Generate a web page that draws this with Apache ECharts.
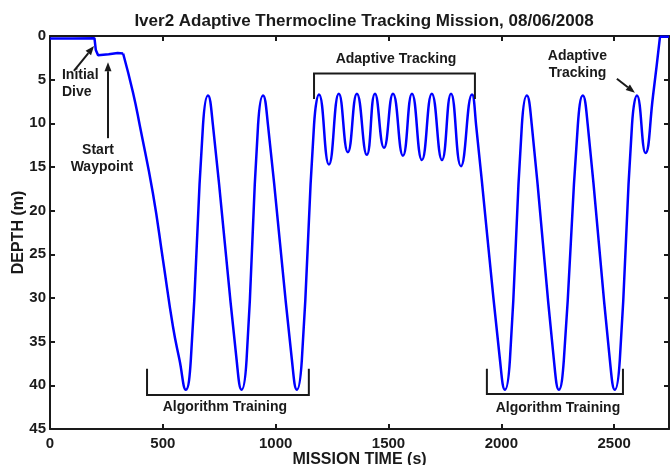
<!DOCTYPE html>
<html>
<head>
<meta charset="utf-8">
<script src="https://cdn.jsdelivr.net/npm/echarts@6/dist/echarts.min.js"></script>
<style>
  html, body { margin: 0; padding: 0; background: #fff; }
  #chart { width: 671px; height: 465px; }
</style>
</head>
<body>
<div id="chart"></div>
<script>
// surface run, initial dive and start waypoint (straight segments)
const surfaceTime  = [0, 100, 197, 203, 213, 260, 300, 324];
const surfaceDepth = [0.3, 0.3, 0.25, 1.6, 2.2, 2.1, 1.95, 2.0];

// main mission profile: training dives, adaptive tracking, training dives
const missionTime = [324, 368, 399, 456, 501, 545, 574, 602, 624, 678, 700, 722, 827, 849, 871, 922, 944, 966,
  1072, 1094, 1116, 1170, 1192,
  1236, 1280, 1320, 1360, 1404, 1440, 1480, 1520, 1564, 1604, 1648, 1692, 1737, 1777, 1821, 1870,
  1889, 1994, 2016, 2038, 2091, 2113, 2135, 2233, 2255, 2277, 2339, 2361, 2383, 2481, 2503, 2525, 2579,
  2601, 2639, 2672, 2703];
const missionDepth = [2.0, 6.5, 10.4, 18.0, 25.7, 33.3, 37.1, 40.5, 37.1, 10.2, 6.8, 10.2, 37.1, 40.5, 37.1, 10.2, 6.8, 10.2,
  37.1, 40.5, 37.1, 10.2, 6.7,
  14.7, 6.6, 13.3, 6.6, 13.6, 6.6, 12.8, 6.6, 13.7, 6.6, 14.2, 6.6, 14.2, 6.6, 14.9, 6.7,
  10.4, 37.1, 40.5, 37.1, 10.2, 6.8, 10.2, 37.1, 40.5, 37.1, 10.2, 6.8, 10.2, 37.1, 40.5, 37.1, 10.2,
  6.8, 13.4, 6.9, 0.1];

// back at the surface
const endTime  = [2703, 2743];
const endDepth = [0.1, 0.1];

const xTicks = [0, 500, 1000, 1500, 2000, 2500];
const yTicks = [0, 5, 10, 15, 20, 25, 30, 35, 40, 45];
const xMax = 2743;

const FONT = 'Liberation Sans';
const INK = '#1a1a1a';
const BLUE = '#0000ff';

function pairs(xs, ys) {
  return xs.map((x, i) => [x, ys[i]]);
}

const chart = echarts.init(document.getElementById('chart'));

const xBase = {
  type: 'value',
  min: xTicks[0],
  max: xMax,
  interval: xTicks[1] - xTicks[0],
  splitLine: { show: false },
  axisLine: { show: true, onZero: false, lineStyle: { color: INK, width: 2 } },
  axisTick: { show: true, inside: true, length: 5, lineStyle: { color: INK, width: 2 } }
};
const yBase = {
  type: 'value',
  inverse: true,
  min: yTicks[0],
  max: yTicks[yTicks.length - 1],
  interval: yTicks[1] - yTicks[0],
  splitLine: { show: false },
  axisLine: { show: true, onZero: false, lineStyle: { color: INK, width: 2 } },
  axisTick: { show: true, inside: true, length: 5, lineStyle: { color: INK, width: 2 } }
};

let option = {
  animation: false,
  backgroundColor: '#fff',
  title: {
    text: 'Iver2 Adaptive Thermocline Tracking Mission, 08/06/2008',
    left: 359,
    top: 8,
    textAlign: 'center',
    textStyle: { fontFamily: FONT, fontSize: 17, fontWeight: 'bold', color: INK }
  },
  grid: { left: 50, right: 2, top: 36, bottom: 36, containLabel: false, outerBoundsMode: 'none' },
  xAxis: [
    Object.assign({}, xBase, {
      position: 'bottom',
      name: 'MISSION TIME (s)',
      nameLocation: 'middle',
      nameGap: 23,
      nameMoveOverlap: false,
      nameTextStyle: { fontFamily: FONT, fontSize: 16, fontWeight: 'bold', color: INK },
      axisLabel: {
        margin: 7,
        fontFamily: FONT, fontSize: 15, fontWeight: 'bold', color: INK,
        formatter: v => (xTicks.indexOf(v) >= 0 ? String(v) : '')
      }
    }),
    Object.assign({}, xBase, { position: 'top', axisLabel: { show: false } })
  ],
  yAxis: [
    Object.assign({}, yBase, {
      position: 'left',
      name: 'DEPTH (m)',
      nameLocation: 'middle',
      nameGap: 23,
      nameRotate: 90,
      nameMoveOverlap: false,
      nameTextStyle: { fontFamily: FONT, fontSize: 16, fontWeight: 'bold', color: INK },
      axisLabel: { margin: 4, fontFamily: FONT, fontSize: 15, fontWeight: 'bold', color: INK }
    }),
    Object.assign({}, yBase, { position: 'right', axisLabel: { show: false } })
  ],
  series: [
    {
      type: 'line', data: pairs(surfaceTime, surfaceDepth), showSymbol: false,
      lineStyle: { color: BLUE, width: 2.5 }, smooth: false
    },
    {
      type: 'line', data: pairs(missionTime, missionDepth), showSymbol: false,
      lineStyle: { color: BLUE, width: 2.5 }, smooth: 0.5
    },
    {
      type: 'line', data: pairs(endTime, endDepth), showSymbol: false,
      lineStyle: { color: BLUE, width: 2.5 }, smooth: false
    }
  ]
};

chart.setOption(option);

// annotations, placed in data coordinates
function px(x, y) {
  return chart.convertToPixel({ xAxisIndex: 0, yAxisIndex: 0 }, [x, y]);
}
function label(text, x, y, align) {
  const p = px(x, y);
  return {
    type: 'text', x: p[0], y: p[1], z: 100,
    style: {
      text: text, fill: INK, align: align || 'center', verticalAlign: 'middle',
      font: 'bold 14px "' + FONT + '"'
    }
  };
}
function polyline(points, w) {
  return {
    type: 'polyline', z: 100,
    shape: { points: points.map(q => px(q[0], q[1])) },
    style: { stroke: INK, lineWidth: w || 2, fill: null }
  };
}
function arrow(x0, y0, x1, y1) {
  const a = px(x0, y0), b = px(x1, y1);
  const dx = b[0] - a[0], dy = b[1] - a[1];
  const len = Math.sqrt(dx * dx + dy * dy);
  const ux = dx / len, uy = dy / len;
  const hl = 9, hw = 3.5;
  const base = [b[0] - ux * hl, b[1] - uy * hl];
  return [
    {
      type: 'line', z: 100,
      shape: { x1: a[0], y1: a[1], x2: base[0], y2: base[1] },
      style: { stroke: INK, lineWidth: 2 }
    },
    {
      type: 'polygon', z: 100,
      shape: { points: [b, [base[0] - uy * hw, base[1] + ux * hw], [base[0] + uy * hw, base[1] - ux * hw]] },
      style: { fill: INK }
    }
  ];
}

const graphic = [
  label('Initial', 53, 4.45, 'left'),
  label('Dive', 53, 6.4, 'left'),
  ...arrow(106, 4.0, 195, 1.15),
  label('Start', 213, 13.05),
  label('Waypoint', 230, 15.0),
  ...arrow(257, 11.7, 257, 3.0),
  label('Adaptive Tracking', 1533, 2.6),
  polyline([[1170, 7.2], [1170, 4.3], [1883, 4.3], [1883, 7.2]]),
  label('Adaptive', 2206, 2.3, 'left'),
  label('Tracking', 2210, 4.25, 'left'),
  ...arrow(2512, 4.9, 2592, 6.5),
  polyline([[430, 38.1], [430, 41.1], [1147, 41.1], [1147, 38.1]]),
  label('Algorithm Training', 775, 42.5),
  polyline([[1936, 38.1], [1936, 41.0], [2539, 41.0], [2539, 38.1]]),
  label('Algorithm Training', 2251, 42.6)
];

chart.setOption({ graphic: graphic });
window.addEventListener('resize', () => chart.resize());
</script>
</body>
</html>
